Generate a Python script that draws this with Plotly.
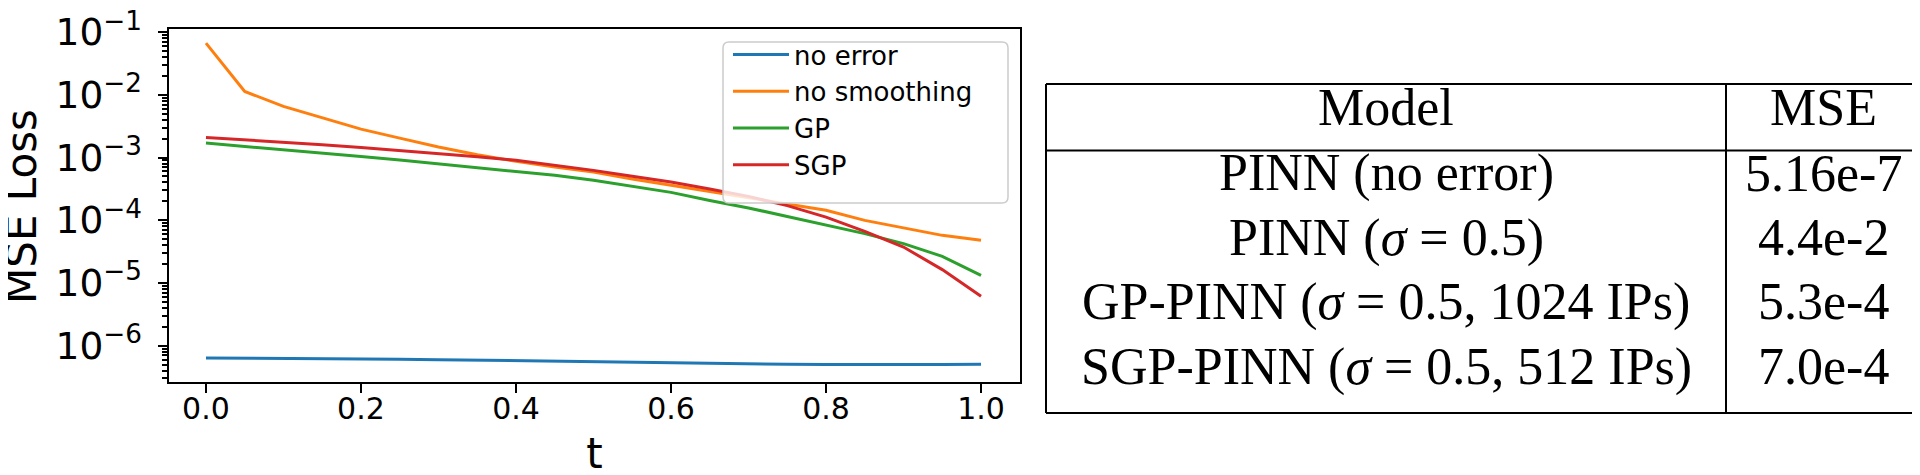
import plotly.graph_objects as go

# ---------------- data ----------------
t = [0.00, 0.05, 0.10, 0.15, 0.20, 0.25, 0.30, 0.35, 0.40, 0.45, 0.50,
     0.55, 0.60, 0.65, 0.70, 0.75, 0.80, 0.85, 0.90, 0.95, 1.00]

no_error = [6.37e-7, 6.34e-7, 6.30e-7, 6.22e-7, 6.14e-7, 6.07e-7, 5.98e-7,
            5.87e-7, 5.77e-7, 5.60e-7, 5.43e-7, 5.33e-7, 5.24e-7, 5.16e-7,
            5.11e-7, 5.05e-7, 4.99e-7, 4.95e-7, 4.92e-7, 4.98e-7, 5.05e-7]

no_smoothing = [6.68e-2, 1.135e-2, 6.53e-3, 4.26e-3, 2.84e-3, 2.04e-3, 1.47e-3,
                1.11e-3, 8.69e-4, 7.05e-4, 5.87e-4, 4.54e-4, 3.60e-4, 2.88e-4,
                2.26e-4, 1.84e-4, 1.44e-4, 9.95e-5, 7.52e-5, 5.74e-5, 4.79e-5]

gp = [1.70e-3, 1.51e-3, 1.33e-3, 1.18e-3, 1.04e-3, 9.12e-4, 7.96e-4,
      6.97e-4, 6.01e-4, 5.20e-4, 4.33e-4, 3.47e-4, 2.78e-4, 2.07e-4,
      1.57e-4, 1.15e-4, 8.30e-5, 6.11e-5, 4.23e-5, 2.66e-5, 1.32e-5]

sgp = [2.09e-3, 1.92e-3, 1.77e-3, 1.60e-3, 1.45e-3, 1.30e-3, 1.16e-3,
       1.03e-3, 9.02e-4, 7.59e-4, 6.24e-4, 5.01e-4, 4.06e-4, 3.15e-4,
       2.40e-4, 1.71e-4, 1.12e-4, 6.65e-5, 3.74e-5, 1.63e-5, 6.12e-6]

series_names = ["no error", "no smoothing", "GP", "SGP"]
series_values = [no_error, no_smoothing, gp, sgp]
series_colors = ["#1f77b4", "#ff7f0e", "#2ca02c", "#d62728"]

x_tick_vals = [0.0, 0.2, 0.4, 0.6, 0.8, 1.0]
x_title = "t"
y_title = "MSE Loss"

table_header = ["Model", "MSE"]
table_models = ["PINN (no error)",
                "PINN (<i>σ</i> = 0.5)",
                "GP-PINN (<i>σ</i> = 0.5, 1024 IPs)",
                "SGP-PINN (<i>σ</i> = 0.5, 512 IPs)"]
table_mse = ["5.16e-7", "4.4e-2", "5.3e-4", "7.0e-4"]

# ---------------- layout geometry (pixels) ----------------
W, H = 1920, 475
ML, MR, MT, MB = 161, 908, 21, 101
PW, PH = W - ML - MR, H - MT - MB


def px(x):
    return (x - ML) / PW


def py(y):
    return (H - MB - y) / PH


fig = go.Figure()
for name, vals, col in zip(series_names, series_values, series_colors):
    fig.add_trace(go.Scatter(x=t, y=vals, mode="lines", name=name,
                             line=dict(color=col, width=3)))

shapes = []
# legend frame (rounded)
lx0, lx1, ly0, ly1 = 715, 1000, 34, 195
r = 6
rx, ry = r / PW, r / PH
X0, X1, Y0, Y1 = px(lx0), px(lx1), py(ly1), py(ly0)
path = (f"M {X0+rx},{Y1} L {X1-rx},{Y1} Q {X1},{Y1} {X1},{Y1-ry} "
        f"L {X1},{Y0+ry} Q {X1},{Y0} {X1-rx},{Y0} L {X0+rx},{Y0} "
        f"Q {X0},{Y0} {X0},{Y0+ry} L {X0},{Y1-ry} Q {X0},{Y1} {X0+rx},{Y1} Z")
shapes.append(dict(type="path", xref="paper", yref="paper", path=path,
                   fillcolor="rgba(255,255,255,0.8)",
                   line=dict(color="#cccccc", width=1.5), layer="above"))

# table lines
TL, TR, TT, TH, TB, TC = 1038, 1913, 76, 142.5, 405, 1718
lw = 2
for (xa, ya, xb, yb) in [(TL, TT, TR, TT), (TL, TH, TR, TH), (TL, TB, TR, TB),
                         (TL, TT, TL, TB), (TR, TT, TR, TB), (TC, TT, TC, TB)]:
    shapes.append(dict(type="line", xref="paper", yref="paper",
                       x0=px(xa), y0=py(ya), x1=px(xb), y1=py(yb),
                       line=dict(color="black", width=lw)))

annotations = []
# y-axis title
annotations.append(dict(text=y_title, x=px(13), y=py(199), xref="paper", yref="paper",
                        showarrow=False, textangle=-90, xanchor="center", yanchor="middle",
                        font=dict(family="DejaVu Sans", size=42, color="black")))

serif = dict(family="Liberation Serif, Times New Roman, serif", size=52, color="black")
col_centers = [(TL + TC) / 2, (TC + TR) / 2]
header_y = 100
row_ys = [165, 229.5, 293.5, 358.5]
for txt, cx in zip(table_header, col_centers):
    annotations.append(dict(text=txt, x=px(cx), y=py(header_y), xref="paper", yref="paper",
                            showarrow=False, xanchor="center", yanchor="middle", font=serif))
for m, v, ry_ in zip(table_models, table_mse, row_ys):
    annotations.append(dict(text=m, x=px(col_centers[0]), y=py(ry_), xref="paper", yref="paper",
                            showarrow=False, xanchor="center", yanchor="middle", font=serif))
    annotations.append(dict(text=v, x=px(col_centers[1]), y=py(ry_), xref="paper", yref="paper",
                            showarrow=False, xanchor="center", yanchor="middle", font=serif))

fig.update_layout(
    width=W, height=H,
    margin=dict(l=ML, r=MR, t=MT, b=MB, autoexpand=False),
    paper_bgcolor="white", plot_bgcolor="white",
    font=dict(family="DejaVu Sans", color="black"),
    showlegend=True,
    legend=dict(x=px(720), y=py(23), xanchor="left", yanchor="top",
                xref="paper", yref="paper", itemwidth=56,
                bgcolor="rgba(0,0,0,0)", borderwidth=0,
                font=dict(family="DejaVu Sans", size=26, color="black")),
    shapes=shapes,
    annotations=annotations,
    xaxis=dict(range=[-0.0477, 1.0503], tickvals=x_tick_vals, tickformat=".1f",
               showgrid=False, zeroline=False, showline=True, mirror=True,
               linecolor="black", linewidth=2, ticks="outside", ticklen=9,
               tickwidth=2, tickcolor="black", ticklabelstandoff=-10,
               tickfont=dict(family="DejaVu Sans", size=30, color="black"),
               title=dict(text=x_title, font=dict(family="DejaVu Sans", size=42, color="black"),
                          standoff=14),
               automargin=False),
    yaxis=dict(type="log", range=[-6.58, -0.95], dtick=1, exponentformat="power",
               showgrid=False, zeroline=False, showline=True, mirror=True,
               linecolor="black", linewidth=2, ticks="outside", ticklen=9,
               tickwidth=2, tickcolor="black", ticklabelstandoff=10,
               ticklabeloverflow="allow",
               minor=dict(ticks="outside", ticklen=5, tickwidth=1.5, tickcolor="black",
                          showgrid=False),
               tickfont=dict(family="DejaVu Sans", size=30, color="black"),
               automargin=False),
)

fig.write_html("out.html")
